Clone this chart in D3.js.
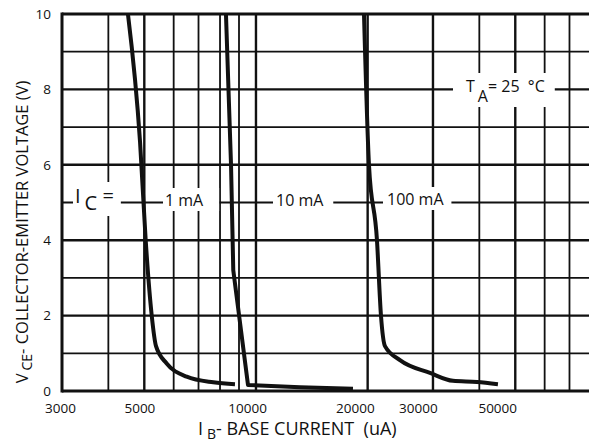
<!DOCTYPE html>
<html><head><meta charset="utf-8">
<script src="https://cdn.jsdelivr.net/npm/d3@7"></script>
<style>
body{margin:0;background:#fff}
text{font-family:"Open Sans",sans-serif;fill:#111;white-space:pre}
</style>
</head><body>
<svg id="c" width="589" height="445"></svg>
<script>
// ---- data ----
const xTickValues = [3000, 5000, 10000, 20000, 30000, 50000];
const xTickLabels = ["3000", "5000", "10000", "20000", "30000", "50000"];
const xGridValues = [4000, 5000, 6000, 7000, 8000, 9000, 10000, 20000, 30000, 40000, 50000, 60000, 70000];
const yTickValues = [0, 2, 4, 6, 8, 10];
const yGridValues = [1, 2, 3, 4, 5, 6, 7, 8, 9];
const seriesNames = ["1 mA", "10 mA", "100 mA"];
// base current (uA) and collector-emitter voltage (V)
const ib_1mA   = [4517, 4870, 5043, 5236, 5377, 5745, 6505, 7671, 8778];
const vce_1mA  = [10, 6.6, 4, 2, 1.19, 0.73, 0.38, 0.23, 0.18];
const ib_10mA  = [8300, 8565, 8686, 9517, 13140, 18258];
const vce_10mA = [10, 6, 3.2, 0.16, 0.1, 0.06];
const ib_100mA = [19550, 20165, 21190, 21724, 22272, 24442, 29446, 33960, 39420, 44900];
const vce_100mA= [10, 6, 4, 2, 1.19, 0.82, 0.48, 0.27, 0.24, 0.18];

// ---- layout ----
const svg = d3.select("#c");
const L = 62, R = 591, T = 14, B = 391;
const x = d3.scaleLog().domain([3000, 80000]).range([L, R]);
const xLab = d3.scaleLog().domain([3000, 80000]).range([60, 60 + (R - L) * 0.9646]);
const y = d3.scaleLinear().domain([0, 10]).range([B, T]);

const major = new Set([5000, 10000, 20000, 30000, 50000]);
const gGrid = svg.append("g");
gGrid.selectAll("line.v").data(xGridValues).join("line")
  .attr("x1", d => x(d)).attr("x2", d => x(d)).attr("y1", T).attr("y2", B)
  .attr("stroke", "#111").attr("stroke-width", d => major.has(d) ? 2.4 : 1.8);
gGrid.selectAll("line.h").data(yGridValues).join("line")
  .attr("x1", L).attr("x2", 589).attr("y1", d => y(d)).attr("y2", d => y(d))
  .attr("stroke", "#111").attr("stroke-width", d => d % 2 === 0 ? 2.4 : 1.8);

// annotation labels with white boxes
const gAnn = svg.append("g");
function label(parts, xs, ys, size, padL, padR, padT, padB) {
  const g = gAnn.append("g");
  const rect = g.append("rect").attr("fill", "#fff");
  const t = g.append("text").attr("x", xs).attr("y", ys).attr("font-size", size);
  parts.forEach(p => {
    const ts = t.append("tspan").text(p.t);
    if (p.dy) ts.attr("dy", p.dy);
    if (p.dx) ts.attr("dx", p.dx);
    if (p.fs) ts.attr("font-size", p.fs);
  });
  const bb = t.node().getBBox();
  rect.attr("x", bb.x - padL).attr("y", bb.y - padT)
      .attr("width", bb.width + padL + padR).attr("height", bb.height + padT + padB);
}
label([{t:"I"},{t:"C",dy:7,dx:4},{t:" =",dy:-7}], 75, 203, 20, 2, 7, 0, 0);
label([{t:seriesNames[0]}], 165, 206, 16, 2, 15, 1, 0);
label([{t:seriesNames[1]}], 276, 206, 16, 3, 9, 1, 0);
label([{t:seriesNames[2]}], 387, 205, 16, 4, 7, 1, 0);
label([{t:"T"},{t:"A",dy:10,dx:3},{t:"= 25  °C",dy:-10}], 466, 92, 16, 13, 10, 2, 0);

// frame
svg.append("line").attr("x1", L).attr("x2", 589).attr("y1", T).attr("y2", T).attr("stroke", "#111").attr("stroke-width", 3);
svg.append("line").attr("x1", L).attr("x2", 589).attr("y1", B).attr("y2", B).attr("stroke", "#111").attr("stroke-width", 3);
svg.append("line").attr("x1", L).attr("x2", L).attr("y1", T - 1.5).attr("y2", B + 1.5).attr("stroke", "#111").attr("stroke-width", 3);

// curves
svg.append("clipPath").attr("id", "clip").append("rect").attr("x", L).attr("y", T).attr("width", R - L).attr("height", B - T);
const series = [
  {ib: ib_1mA, v: vce_1mA, c: d3.curveMonotoneX},
  {ib: ib_10mA, v: vce_10mA, c: d3.curveLinear},
  {ib: ib_100mA, v: vce_100mA, c: d3.curveMonotoneX}
];
series.forEach(s => {
  const pts = s.ib.map((d, i) => [d, s.v[i]]);
  svg.append("path").attr("clip-path", "url(#clip)")
    .attr("d", d3.line().x(d => x(d[0])).y(d => y(d[1])).curve(s.c)(pts))
    .attr("fill", "none").attr("stroke", "#111").attr("stroke-width", 4)
    .attr("stroke-linejoin", "round").attr("stroke-linecap", "butt");
});

// axes tick labels
const xAxis = d3.axisBottom(xLab).tickValues(xTickValues)
  .tickFormat((d, i) => xTickLabels[i]).tickSize(0).tickPadding(0);
const gx = svg.append("g").attr("transform", "translate(0,403)").call(xAxis);
gx.select(".domain").remove();
gx.selectAll("text").attr("font-family", "Open Sans").attr("font-size", 13.5).attr("fill", "#111").attr("dy", "0.71em");

const yAxis = d3.axisLeft(y).tickValues(yTickValues).tickSize(0).tickPadding(0);
const gy = svg.append("g").attr("transform", "translate(51,0)").call(yAxis);
gy.select(".domain").remove();
gy.selectAll("text").attr("font-family", "Open Sans").attr("font-size", 13.5).attr("fill", "#111");

// axis titles
const xt = svg.append("text").attr("x", 198).attr("y", 435).attr("font-size", 18);
xt.append("tspan").text("I");
xt.append("tspan").text("B").attr("dy", 4).attr("dx", 4).attr("font-size", 14);
xt.append("tspan").text("- BASE CURRENT  (uA)").attr("dy", -4);

const yt = svg.append("text").attr("transform", "translate(28,232) rotate(-90)")
  .attr("text-anchor", "middle").attr("font-size", 16.5);
yt.append("tspan").text("V");
yt.append("tspan").text("CE").attr("dy", 4).attr("dx", 3).attr("font-size", 14);
yt.append("tspan").text("- COLLECTOR-EMITTER VOLTAGE (V)").attr("dy", -4);
</script>
</body></html>
